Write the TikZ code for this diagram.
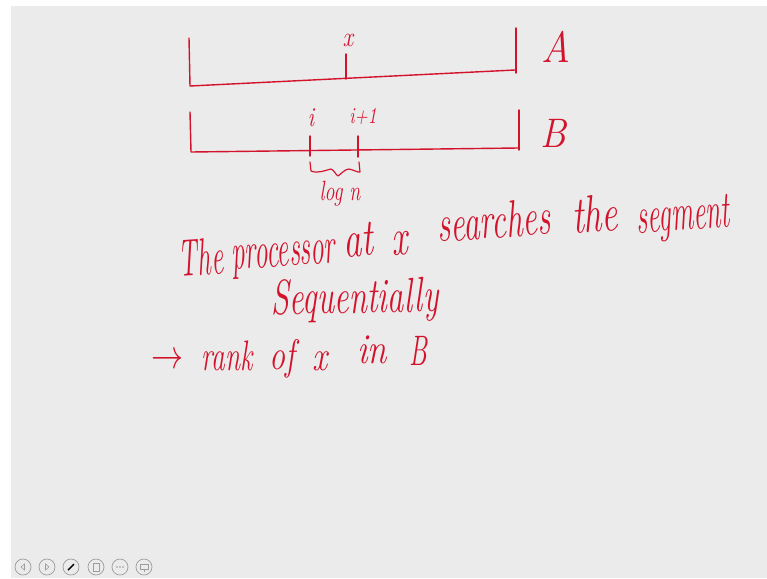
\documentclass[tikz,border=0pt]{standalone}
\usepackage{tikz}
\usetikzlibrary{arrows.meta,positioning,calc}
\usepackage{xcolor}
\definecolor{ink}{HTML}{D3122C}
\definecolor{slidegray}{HTML}{EBEBEB}
\definecolor{icongray}{HTML}{9C9C9C}
\tikzset{
  pen/.style={draw=ink, line width=1.2pt, line cap=round, line join=round},
  hand/.style={text=ink, inner sep=0pt, font=\itshape},
  handword/.style={hand, anchor=base},
  navicon/.style={circle, draw=icongray, line width=0.6pt, minimum size=4.8mm, inner sep=0pt}
}
\newcommand{\handtext}[4]{\fontsize{#1}{#1}\selectfont\scalebox{#2}[#3]{#4}}

\begin{document}
\begin{tikzpicture}[x=0.03cm, y=-0.03cm]
  \useasboundingbox (0,0) rectangle (767,578);
  \fill[white] (0,0) rectangle (767,578);
  \fill[slidegray] (11,6) rectangle (767,578);

  % array A
  \coordinate (a0) at (190,86);
  \coordinate (a1) at (515,70);
  \draw[pen] (189,38) -- (a0) -- (a1);
  \draw[pen] (516,28) -- (516,73);
  \coordinate (ax) at (346,79);
  \draw[pen] (346,54) -- (ax);
  \node[hand] (xlabel) at (348,40) {\handtext{20}{1}{1.2}{x}};
  \node[hand] (labelA) at (556,47) {\handtext{34}{1}{1.1}{A}};

  % array B
  \coordinate (b0) at (191,152);
  \coordinate (b1) at (518,148);
  \draw[pen] (190,112) -- (b0) -- (b1);
  \draw[pen] (519,110) -- (519,150);
  \coordinate (bi) at (310,136);
  \coordinate (bj) at (358,136);
  \draw[pen] (bi) -- (310,156);
  \draw[pen] (bj) -- (358,157);
  \node[hand] (ilabel) at (311,118) {\handtext{18}{1}{1.3}{i}};
  \node[hand] (jlabel) at (363,116) {\handtext{15}{1}{1.3}{i+1}};
  \node[hand] (labelB) at (553,133) {\handtext{32}{1}{1.1}{B}};

  % brace under the segment
  \draw[pen, line width=1pt] (bi) ++(0,26) -- ++(1,9)
    .. controls (318,174) and (326,170) .. (331,169)
    .. controls (334,170) and (336,175) .. (338,176)
    .. controls (341,174) and (345,169) .. (349,169)
    .. controls (354,170) and (359,173) .. (360,172) -- (359,162);
  \node[hand] (logn) at (340,194) {\handtext{17}{1}{1.4}{log n}};

  % explanation, word by word
  \foreach \w/\px/\py/\sx [count=\k] in {The/202/275/0.82, processor/284/266/0.82,
      at/359/256/1.1, x/401/255/1.1, searches/495/238/1.0, the/596/232/1.1,
      segment/684/230/0.84}
    \node[handword, rotate=4] (line1w\k) at (\px,\py) {\handtext{28}{\sx}{1.6}{\w}};
  \node[handword, rotate=1] (line2) at (355,313)
    {\handtext{28}{1}{1.5}{Sequentially}};
  \foreach \w/\px/\py/\sx [count=\k] in {$\rightarrow$/168/368/1.1, rank/227/370/0.9,
      of/282/369/1.05, x/320/370/1.1, in/372/363/1.15, B/418/365/0.85}
    \node[handword] (line3w\k) at (\px,\py) {\handtext{26}{\sx}{1.4}{\w}};

  % navigation icons
  \foreach \n/\px in {prev/23, next/47, penicon/71, slideicon/96, more/120, screen/144}
    \node[navicon] (\n) at (\px,567) {};
  \draw[icongray, line width=0.5pt] ($(prev)+(1.5,-3)$) -- ($(prev)+(-2,0)$) -- ($(prev)+(1.5,3)$) -- cycle;
  \draw[icongray, line width=0.5pt] ($(next)+(-1.5,-3)$) -- ($(next)+(2,0)$) -- ($(next)+(-1.5,3)$) -- cycle;
  \draw[black, line width=1.2pt] ($(penicon)+(-3,3)$) -- ($(penicon)+(3,-3)$);
  \draw[icongray, line width=0.5pt] ($(slideicon)+(-3,-4)$) rectangle ($(slideicon)+(3,4)$);
  \foreach \dx in {-3,0,3}
    \fill[icongray] ($(more)+(\dx,0)$) circle (0.9);
  \draw[icongray, line width=0.5pt] ($(screen)+(-4,-3)$) rectangle ($(screen)+(4,2)$);
  \draw[icongray, line width=0.5pt] ($(screen)+(0,2)$) -- ($(screen)+(0,5)$);
\end{tikzpicture}
\end{document}
